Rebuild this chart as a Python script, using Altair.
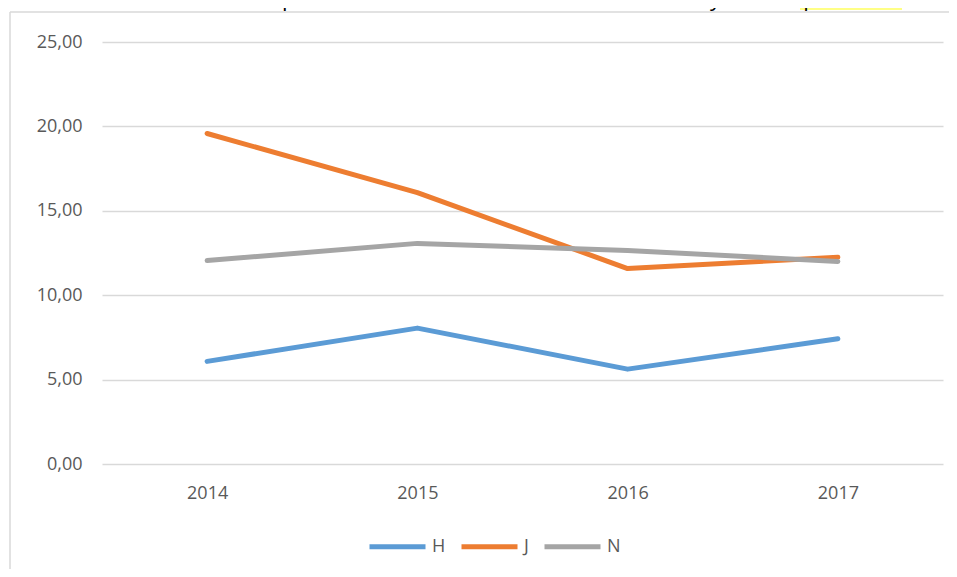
import altair as alt
import pandas as pd

years = ["2014", "2015", "2016", "2017"]
series_names = ["H", "J", "N"]
h_values = [6.08, 8.05, 5.62, 7.42]
j_values = [19.58, 16.08, 11.58, 12.25]
n_values = [12.05, 13.07, 12.65, 12.00]
colors = ["#5B9BD5", "#ED7D31", "#A5A5A5"]
caption = "Obrázek 3.13: Podíl ostatní produkce – OZE na tvorbě celkové hodnoty ostatní produkce"

rows = []
for name, vals in zip(series_names, [h_values, j_values, n_values]):
    for y, v in zip(years, vals):
        rows.append({"rok": y, "serie": name, "hodnota": v, "poradi": series_names.index(name)})
df = pd.DataFrame(rows)

FONT = "Open Sans"

x_enc = alt.X("rok:O", sort=years,
              scale=alt.Scale(type="point", padding=0.5),
              axis=alt.Axis(title=None, labelAngle=0, domain=False, ticks=False,
                            labelFont=FONT, labelFontSize=18, labelColor="#595959",
                            labelPadding=20, grid=False))
y_enc = alt.Y("hodnota:Q", scale=alt.Scale(domain=[0, 25], nice=False),
              axis=alt.Axis(title=None, values=[0, 5, 10, 15, 20, 25],
                            labelExpr="replace(format(datum.value, '.2f'), '.', ',')",
                            domain=False, ticks=False, labelFont=FONT, labelFontSize=18,
                            labelColor="#595959", labelPadding=20,
                            grid=True, gridColor="#D9D9D9", gridWidth=1.3))

lines = alt.Chart(df).mark_line(strokeWidth=5, strokeCap="round", strokeJoin="round").encode(
    x=x_enc, y=y_enc,
    color=alt.Color("serie:N", sort=series_names,
                    scale=alt.Scale(domain=series_names, range=colors),
                    legend=alt.Legend(title=None, orient="none", direction="horizontal",
                                      legendX=265, legendY=474,
                                      symbolType="stroke", symbolSize=3136,
                                      symbolStrokeWidth=5, labelFont=FONT, labelFontSize=18,
                                      labelColor="#595959", labelOffset=4, columnPadding=5)),
    order=alt.Order("poradi:Q"),
)

one = pd.DataFrame({"a": [0]})
frame_left = alt.Chart(one).mark_rule(stroke="#D9D9D9", strokeWidth=1.5).encode(
    x=alt.value(-92), y=alt.value(-30), y2=alt.value(600))
frame_top = alt.Chart(one).mark_rule(stroke="#D9D9D9", strokeWidth=1.5).encode(
    x=alt.value(-92), x2=alt.value(950), y=alt.value(-30))

highlight = alt.Chart(one).mark_rect(
    fill="#FFFF66", opacity=0.8
).encode(x=alt.value(698), x2=alt.value(800), y=alt.value(-42), y2=alt.value(-32))

cap = alt.Chart(pd.DataFrame({"t": [caption]})).mark_text(
    align="left", baseline="alphabetic", font=FONT, fontSize=22, color="#000000"
).encode(x=alt.value(-100), y=alt.value(-36), text="t:N")

chart = alt.layer(frame_left, frame_top, highlight, cap, lines).properties(
    width=841, height=422,
    autosize=alt.AutoSizeParams(type="none"),
    padding={"left": 94, "top": 34, "right": 6, "bottom": 105},
).configure_view(stroke=None)

chart.save("out.html", embed_options={"renderer": "svg", "actions": False})
